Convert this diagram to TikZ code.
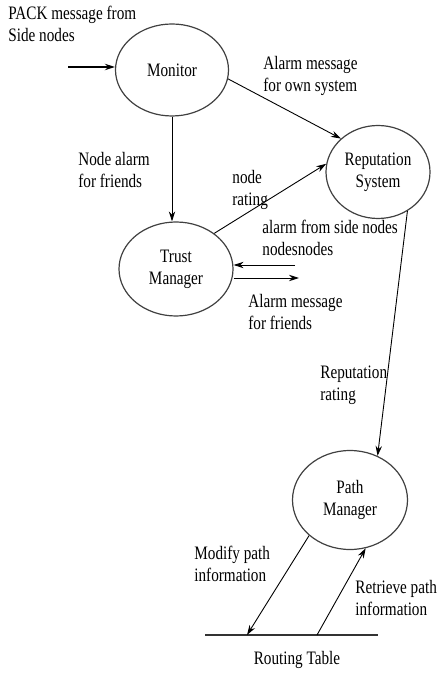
\documentclass[tikz,border=0pt]{standalone}
\usepackage{fontspec}
\setmainfont{Liberation Serif}[FakeStretch=0.8]
\usetikzlibrary{positioning, shapes.geometric, arrows.meta}

\begin{document}
\begin{tikzpicture}[
    % GLOBAL SETTINGS
    x=0.5pt, y=-0.5pt,
    font=\fontsize{9.5}{11}\selectfont,
    % STYLES
    module/.style={ellipse, draw=black!75, line width=0.6pt, inner sep=0pt, align=center},
    flow/.style={draw, line width=0.45pt, -{Stealth[length=5pt, width=3.2pt]}},
    msg/.style={align=left, inner sep=0pt, anchor=north west},
    table_line/.style={draw=black!80, line width=1pt}
]

    \useasboundingbox (0,0) rectangle (436,688);

    % the four modules
    \node[module, minimum width=56.5pt, minimum height=46pt] (monitor) at (172,70) {Monitor};
    \node[module, minimum width=52pt, minimum height=46.5pt] (rep) at (378,172) {Reputation\\System};
    \node[module, minimum width=57pt, minimum height=47pt] (trust) at (176,269) {Trust\\Manager};
    \node[module, minimum width=57.5pt, minimum height=49.5pt] (path) at (350,500) {Path\\Manager};

    % routing table
    \coordinate (rt_left) at (205,635);
    \coordinate (rt_right) at (378,635);
    \draw[table_line] (rt_left) -- (rt_right);
    \node (rt_label) at (297,660) {Routing Table};

    % free ends
    \coordinate (pack_in) at (68,67);
    \coordinate (side_in) at (295,265);
    \coordinate (friends_out) at (299,278);
    \coordinate (modify_end) at (247,635);
    \coordinate (retrieve_start) at (317,635);

    % connectors
    \draw[flow, line width=0.8pt] (pack_in) -- (pack_in -| monitor.west);
    \draw[flow] (monitor) -- (monitor |- trust.north);
    \draw[flow] (monitor.-9) -- (rep.138);
    \draw[flow] (trust.43) -- (rep.171);
    \draw[flow] (rep.-53) -- (path.58);
    \draw[flow] (side_in) -- (side_in -| trust.east);
    \draw[flow] (friends_out -| trust.east) -- (friends_out);
    \draw[flow] (path.221) -- (modify_end);
    \draw[flow] (retrieve_start) -- (path.-72);

    % messages
    \node[msg] (pack_lbl) at (8,6) {PACK message from\\Side nodes};
    \node[msg] (own_lbl) at (263,56) {Alarm message\\for own system};
    \node[msg] (nodealarm_lbl) at (78,152) {Node alarm\\for friends};
    \node[msg] (rating_lbl) at (232,170) {node\\rating};
    \node[msg] (side_lbl) at (262,220) {alarm from side nodes\\nodesnodes};
    \node[msg] (friends_lbl) at (248,294) {Alarm message\\for friends};
    \node[msg] (reprate_lbl) at (320,366) {Reputation\\rating};
    \node[msg] (modify_lbl) at (194,546) {Modify path\\information};
    \node[msg] (retrieve_lbl) at (355,580) {Retrieve path\\information};

\end{tikzpicture}
\end{document}
